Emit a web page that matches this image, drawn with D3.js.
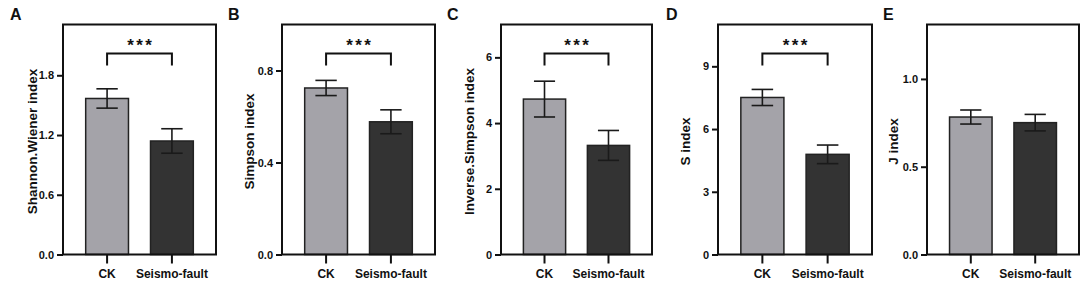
<!DOCTYPE html>
<html>
<head>
<meta charset="utf-8">
<script src="https://cdn.jsdelivr.net/npm/d3@7"></script>
<style>
  body { margin: 0; background: #fff; }
  svg text { font-family: "Liberation Sans", Arial, sans-serif; font-weight: bold; fill: #111; }
</style>
</head>
<body>
<svg id="chart" width="1084" height="286"></svg>
<script>
// data
const groups = ["CK", "Seismo-fault"];
const panelLetters = ["A", "B", "C", "D", "E"];
const indexNames = ["Shannon.Wiener index", "Simpson index", "Inverse.Simpson index", "S index", "J index"];
const meanCK = [1.567, 0.724, 4.73, 7.51, 0.783];
const meanFault = [1.14, 0.577, 3.32, 4.79, 0.751];
const sdCK = [0.097, 0.033, 0.545, 0.385, 0.040];
const sdFault = [0.123, 0.052, 0.455, 0.445, 0.047];
const yMax = [2.31, 1.0, 7, 11, 1.31];
const yTicks = [[0, 0.6, 1.2, 1.8], [0, 0.4, 0.8], [0, 2, 4, 6], [0, 3, 6, 9], [0, 0.5, 1.0]];
const tickFormats = [".1f", ".1f", "d", "d", ".1f"];
const signif = ["***", "***", "***", "***", ""];

// layout
const boxLeft = [63, 282, 501, 718, 927];
const boxRight = [216, 435, 652, 872, 1079];
const boxTop = 24.5, boxBottom = 254.5;
const letterX = [10, 228, 447, 666, 883];
const titleX = [32, 249, 469, 685, 893];
const fills = ["#a4a3a9", "#333333"];

const svg = d3.select("#chart");

panelLetters.forEach((letter, i) => {
    const g = svg.append("g");
    const x = d3.scaleBand()
        .domain(groups)
        .range([boxLeft[i], boxRight[i]])
        .paddingInner(0.34)
        .paddingOuter(0.35);
    const y = d3.scaleLinear()
        .domain([0, yMax[i]])
        .range([boxBottom, boxTop]);

    const vals = [
        {grp: groups[0], mean: meanCK[i], sd: sdCK[i]},
        {grp: groups[1], mean: meanFault[i], sd: sdFault[i]}
    ];

    // bars
    g.selectAll("rect.bar")
        .data(vals)
        .enter()
        .append("rect")
        .attr("class", "bar")
        .attr("x", d => x(d.grp))
        .attr("width", x.bandwidth())
        .attr("y", d => y(d.mean))
        .attr("height", d => y(0) - y(d.mean))
        .attr("fill", (d, j) => fills[j])
        .attr("stroke", "#222")
        .attr("stroke-width", 1.5);

    // error bars
    const cap = x.bandwidth() / 4;
    const eb = g.selectAll("g.err")
        .data(vals)
        .enter()
        .append("g")
        .attr("class", "err")
        .attr("stroke", "#1a1a1a")
        .attr("stroke-width", 1.6);
    eb.append("line")
        .attr("x1", d => x(d.grp) + x.bandwidth() / 2)
        .attr("x2", d => x(d.grp) + x.bandwidth() / 2)
        .attr("y1", d => y(d.mean + d.sd))
        .attr("y2", d => y(d.mean - d.sd));
    eb.append("line")
        .attr("x1", d => x(d.grp) + x.bandwidth() / 2 - cap)
        .attr("x2", d => x(d.grp) + x.bandwidth() / 2 + cap)
        .attr("y1", d => y(d.mean + d.sd))
        .attr("y2", d => y(d.mean + d.sd));
    eb.append("line")
        .attr("x1", d => x(d.grp) + x.bandwidth() / 2 - cap)
        .attr("x2", d => x(d.grp) + x.bandwidth() / 2 + cap)
        .attr("y1", d => y(d.mean - d.sd))
        .attr("y2", d => y(d.mean - d.sd));

    // y axis
    const yAxis = d3.axisLeft(y)
        .tickValues(yTicks[i])
        .tickFormat(d3.format(tickFormats[i]))
        .tickSize(6)
        .tickPadding(3);
    const ya = g.append("g")
        .attr("transform", `translate(${boxLeft[i]},0)`)
        .call(yAxis);
    ya.select(".domain").remove();
    ya.selectAll(".tick line").attr("stroke", "#111").attr("stroke-width", 2);
    ya.selectAll(".tick text").style("font-size", "11px").attr("fill", "#111");

    // x axis
    const xAxis = d3.axisBottom(x).tickSize(9).tickPadding(6);
    const xa = g.append("g")
        .attr("transform", `translate(0,${boxBottom})`)
        .call(xAxis);
    xa.select(".domain").remove();
    xa.selectAll(".tick line").attr("stroke", "#111").attr("stroke-width", 2);
    xa.selectAll(".tick text").style("font-size", "12px").attr("fill", "#111");

    // frame
    g.append("rect")
        .attr("x", boxLeft[i])
        .attr("y", boxTop)
        .attr("width", boxRight[i] - boxLeft[i])
        .attr("height", boxBottom - boxTop)
        .attr("fill", "none")
        .attr("stroke", "#111")
        .attr("stroke-width", 2);

    // significance bracket
    if (signif[i]) {
        const x1 = x(groups[0]) + x.bandwidth() / 2;
        const x2 = x(groups[1]) + x.bandwidth() / 2;
        g.append("path")
            .attr("d", `M${x1},65.5 V53.5 H${x2} V65.5`)
            .attr("fill", "none")
            .attr("stroke", "#111")
            .attr("stroke-width", 2);
        g.append("text")
            .attr("x", (x1 + x2) / 2 + 1.2)
            .attr("y", 51)
            .attr("text-anchor", "middle")
            .style("font-size", "17px")
            .style("letter-spacing", "2.4px")
            .text(signif[i]);
    }

    // axis title
    g.append("text")
        .attr("transform", `translate(${titleX[i]},${(boxTop + boxBottom) / 2 + 2}) rotate(-90)`)
        .attr("text-anchor", "middle")
        .attr("dy", "0.35em")
        .style("font-size", "13.5px")
        .text(indexNames[i]);

    // panel letter
    g.append("text")
        .attr("x", letterX[i])
        .attr("y", 19.5)
        .style("font-size", "16px")
        .text(letter);
});
</script>
</body>
</html>
